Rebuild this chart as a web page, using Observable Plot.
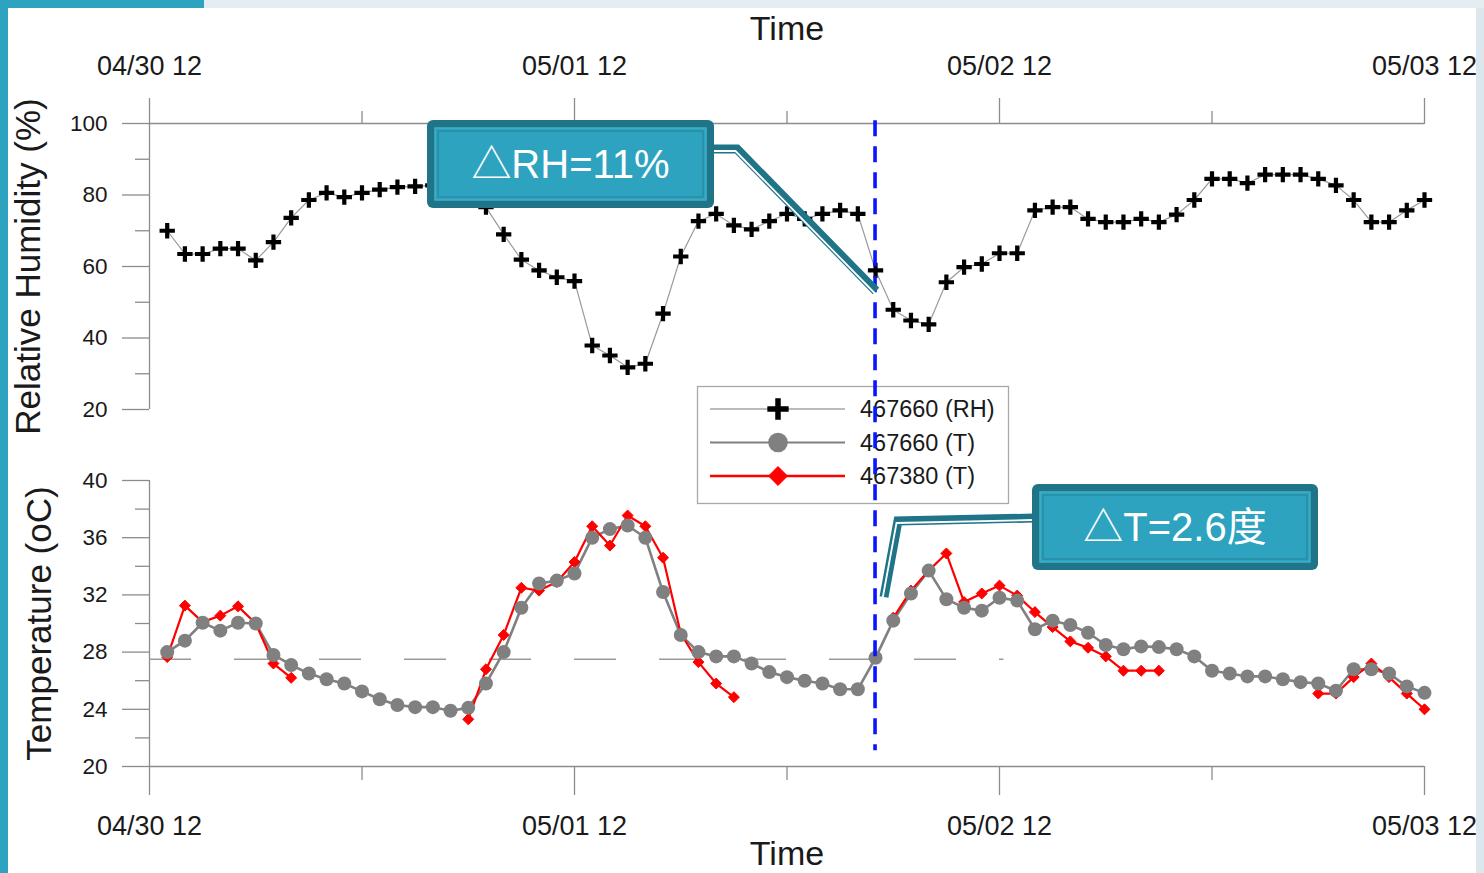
<!DOCTYPE html>
<html>
<head>
<meta charset="utf-8">
<script src="https://cdn.jsdelivr.net/npm/d3@7"></script>
<script src="https://cdn.jsdelivr.net/npm/@observablehq/plot@0.6"></script>
<style>
html, body { margin: 0; padding: 0; background: #fff; overflow: hidden; }
#wrap { position: relative; width: 1484px; height: 873px; overflow: hidden; background: #fff;
  font-family: "Liberation Sans", Arial, "Noto Sans CJK TC", sans-serif; }
#wrap > svg, #wrap > div { position: absolute; left: 0; top: 0; }
</style>
</head>
<body>
<div id="wrap"></div>
<script>
// ---------------- data (hourly, 04/30 13:00 .. 05/03 12:00) ----------------
const startLabel = "04/30 12";
const rhValues = [
  70, 63.5, 63.5, 65, 65, 61.7, 66.8, 73.6, 78.6, 80.6,
  79.4, 80.6, 81.5, 82.2, 82.4, 82.7, 83, 81, 76.6, 69,
  61.9, 58.9, 57, 55.9, 37.9, 35.1, 31.8, 32.8, 46.8, 62.8,
  72.7, 74.7, 71.5, 70.4, 72.7, 74.7, 73.3, 74.7, 75.7, 74.7,
  58.9, 47.9, 44.9, 43.8, 55.6, 59.8, 60.7, 63.7, 63.7, 75.7,
  76.6, 76.6, 73.3, 72.4, 72.4, 73.3, 72.4, 74.5, 78.6, 84.5,
  84.5, 83.3, 85.7, 85.7, 85.7, 84.5, 82.7, 78.6, 72.4, 72.4,
  75.7, 78.6
];
const temp467660 = [
  28.0, 28.8, 30.05, 29.5, 30.05, 30.0, 27.8, 27.1, 26.5, 26.1,
  25.8, 25.25, 24.7, 24.3, 24.15, 24.15, 23.9, 24.1, 25.8, 28.0,
  31.1, 32.8, 33.0, 33.5, 36.0, 36.6, 36.85, 36.0, 32.2, 29.2,
  28.0, 27.7, 27.7, 27.2, 26.6, 26.25, 26.0, 25.8, 25.4, 25.4,
  27.6, 30.2, 32.1, 33.7, 31.7, 31.1, 30.9, 31.8, 31.6, 29.6,
  30.2, 29.9, 29.35, 28.5, 28.2, 28.4, 28.35, 28.2, 27.7, 26.7,
  26.5, 26.3, 26.3, 26.1, 25.9, 25.8, 25.3, 26.8, 26.8, 26.5,
  25.6, 25.15
];
const temp467380 = [
  27.65, 31.25, 30.1, 30.55, 31.2, 30.0, 27.2, 26.2, null, null,
  null, null, null, null, null, null, null, 23.3, 26.8, 29.2,
  32.5, 32.3, 32.9, 34.3, 36.8, 35.45, 37.55, 36.8, 34.6, 29.3,
  27.3, 25.8, 24.85, null, null, null, null, null, null, null,
  null, 30.4, 32.3, 33.7, 34.9, 31.5, 32.1, 32.65, 31.95, 30.8,
  29.75, 28.75, 28.3, 27.7, 26.7, 26.7, 26.7, null, null, null,
  null, null, null, null, null, 25.1, 25.1, 26.25, 27.2, 26.25,
  25.1, 24.0
];
const xTickLabels = ["04/30 12", "05/01 12", "05/02 12", "05/03 12"];
const xMinorTickLabels = ["05/01 00", "05/02 00", "05/03 00"];
const rhTicks = [20, 40, 60, 80, 100];
const rhMinorTicks = [30, 50, 70, 90];
const tTicks = [20, 24, 28, 32, 36, 40];
const tMinorTicks = [22, 26, 30, 34, 38];
const refLevel = 27.5;                       // dashed reference level (oC)
const refSpan = ["04/30 12", "05/02 12"];
const eventLabel = "05/02 05";               // blue dashed marker
const seriesNames = ["467660 (RH)", "467660 (T)", "467380 (T)"];
const calloutTexts = ["△RH=11%", "△T=2.6度"];
const axisTitles = { x: "Time", rh: "Relative Humidity (%)", t: "Temperature (oC)" };

// ---------------- build table ----------------
const parse = s => d3.utcParse("%Y/%m/%d %H")("2014/" + s);
const fmt = d3.utcFormat("%m/%d %H");
const t0 = parse(startLabel);
const tEnd = parse(xTickLabels[xTickLabels.length - 1]);
const rows = rhValues.map((v, i) => ({
  time: d3.utcHour.offset(t0, i + 1), rh: v, tA: temp467660[i], tB: temp467380[i]
}));
const majorX = xTickLabels.map(parse);
const minorX = xMinorTickLabels.map(parse);

const W = 1484, H = 873;
const FONT = '"Liberation Sans", Arial, "Noto Sans CJK TC", sans-serif';
const AXIS = "#8c8c8c";
const TEXT = "#1a1a1a";
const baseStyle = { position: "absolute", left: "0px", top: "0px", background: "transparent",
  overflow: "visible", fontFamily: FONT, color: TEXT };
const common = {
  width: W, height: H, marginLeft: 149, marginRight: 60,
  x: { type: "utc", domain: [t0, tEnd] },
  style: baseStyle
};

// ---------------- top panel: RH ----------------
const rhPlot = Plot.plot({
  ...common,
  marginTop: 123, marginBottom: H - 409,
  y: { domain: [20, 100] },
  marks: [
    Plot.ruleY([100], { stroke: AXIS, strokeWidth: 1.3 }),
    Plot.ruleX([t0], { y1: 20, y2: 100, stroke: AXIS, strokeWidth: 1.3 }),
    Plot.axisX(majorX, { anchor: "top", tickSize: 26, tickPadding: 23, tickFormat: fmt,
      fontSize: 27, label: null, stroke: AXIS, strokeWidth: 1.3, fill: TEXT }),
    Plot.axisX(minorX, { anchor: "top", tickSize: 13, tickFormat: () => "", label: null,
      stroke: AXIS, strokeWidth: 1.3 }),
    Plot.axisY(rhTicks, { anchor: "left", tickSize: 27, tickPadding: 15, fontSize: 22.5,
      label: null, stroke: AXIS, strokeWidth: 1.3, fill: TEXT }),
    Plot.axisY(rhMinorTicks, { anchor: "left", tickSize: 14, tickFormat: () => "", label: null,
      stroke: AXIS, strokeWidth: 1.3 }),
    Plot.line(rows, { x: "time", y: "rh", stroke: "#9a9a9a", strokeWidth: 1.2 }),
    Plot.dot(rows, { x: "time", y: "rh", symbol: "plus", r: 5, stroke: "#000", strokeWidth: 4.2 }),
    Plot.text([axisTitles.x], { text: d => d, frameAnchor: "top", dy: -94, fontSize: 34,
      textAnchor: "middle", lineAnchor: "middle", fill: TEXT }),
    Plot.text([axisTitles.rh], { text: d => d, frameAnchor: "left", dx: -121, rotate: -90,
      fontSize: 35, textAnchor: "middle", lineAnchor: "middle", fill: TEXT })
  ]
});

// ---------------- bottom panel: Temperature ----------------
const tPlot = Plot.plot({
  ...common,
  marginTop: 480, marginBottom: H - 766,
  y: { domain: [20, 40] },
  marks: [
    Plot.ruleY([20], { stroke: AXIS, strokeWidth: 1.3 }),
    Plot.ruleX([t0], { y1: 20, y2: 40, stroke: AXIS, strokeWidth: 1.3 }),
    Plot.axisX(majorX, { anchor: "bottom", tickSize: 29, tickPadding: 20, tickFormat: fmt,
      fontSize: 27, label: null, stroke: AXIS, strokeWidth: 1.3, fill: TEXT }),
    Plot.axisX(minorX, { anchor: "bottom", tickSize: 14, tickFormat: () => "", label: null,
      stroke: AXIS, strokeWidth: 1.3 }),
    Plot.axisY(tTicks, { anchor: "left", tickSize: 27, tickPadding: 15, fontSize: 22.5,
      label: null, stroke: AXIS, strokeWidth: 1.3, fill: TEXT }),
    Plot.axisY(tMinorTicks, { anchor: "left", tickSize: 14, tickFormat: () => "", label: null,
      stroke: AXIS, strokeWidth: 1.3 }),
    Plot.ruleY([refLevel], { x1: parse(refSpan[0]), x2: d3.utcMinute.offset(parse(refSpan[1]), 15),
      stroke: "#9a9a9a", strokeWidth: 1.5, strokeDasharray: "42,43" }),
    Plot.line(rows, { x: "time", y: "tA", stroke: "#808080", strokeWidth: 2.6 }),
    Plot.line(rows, { x: "time", y: "tB", stroke: "#ff0000", strokeWidth: 2.2 }),
    Plot.dot(rows.filter(d => d.tB != null), { x: "time", y: "tB", symbol: "diamond2", r: 4.95,
      fill: "#ff0000", stroke: "#ff0000", strokeWidth: 1 }),
    Plot.dot(rows, { x: "time", y: "tA", symbol: "circle", r: 7, fill: "#808080", stroke: "none" }),
    Plot.text([axisTitles.x], { text: d => d, frameAnchor: "bottom", dy: 88, fontSize: 34,
      textAnchor: "middle", lineAnchor: "middle", fill: TEXT }),
    Plot.text([axisTitles.t], { text: d => d, frameAnchor: "left", dx: -110, rotate: -90,
      fontSize: 35, textAnchor: "middle", lineAnchor: "middle", fill: TEXT })
  ]
});

const wrap = document.getElementById("wrap");

// slide background fragments around the pasted chart
function band(l, t, w, h, c) {
  const d = document.createElement("div");
  Object.assign(d.style, { left: l + "px", top: t + "px", width: w + "px", height: h + "px", background: c });
  wrap.appendChild(d);
}
band(0, 0, 1484, 8, "#e4edf1");
band(0, 0, 204, 8, "#2ea3bf");
band(0, 0, 8, 873, "#2ea3bf");
band(1476, 8, 8, 865, "#dbe7ed");

wrap.appendChild(rhPlot);
wrap.appendChild(tPlot);

// ---------------- overlay: legend, event line, callouts ----------------
const ov = d3.create("svg").attr("width", W).attr("height", H)
  .style("position", "absolute").style("left", "0px").style("top", "0px")
  .style("font-family", FONT);

// legend
const lg = ov.append("g");
lg.append("rect").attr("x", 697.5).attr("y", 386.5).attr("width", 311).attr("height", 117)
  .attr("fill", "#fff").attr("stroke", "#a8a8a8").attr("stroke-width", 1.3);
const legendStyles = [
  { line: "#a6a6a6", lw: 1.5, sym: d3.symbolPlus, size: 150, fill: "none", stroke: "#000", sw: 5.5 },
  { line: "#808080", lw: 2.2, sym: d3.symbolCircle, size: Math.PI * 9.8 * 9.8, fill: "#808080", stroke: "none", sw: 0 },
  { line: "#ff0000", lw: 2.4, sym: d3.symbolDiamond2, size: 230, fill: "#ff0000", stroke: "#ff0000", sw: 1 }
];
seriesNames.forEach((name, i) => {
  const s = legendStyles[i];
  const y = 409 + i * 33.5;
  lg.append("line").attr("x1", 710).attr("x2", 845).attr("y1", y).attr("y2", y)
    .attr("stroke", s.line).attr("stroke-width", s.lw);
  lg.append("path").attr("transform", `translate(778,${y})`)
    .attr("d", d3.symbol(s.sym, s.size)()).attr("fill", s.fill).attr("stroke", s.stroke)
    .attr("stroke-width", s.sw);
  lg.append("text").attr("x", 860).attr("y", y).attr("dy", "0.35em").attr("font-size", 23.5)
    .attr("fill", TEXT).text(name);
});

// blue event line spanning both panels
const ex = tPlot.scale("x").apply(parse(eventLabel));
ov.append("line").attr("x1", ex).attr("x2", ex)
  .attr("y1", rhPlot.scale("y").apply(100.8)).attr("y2", tPlot.scale("y").apply(21.1))
  .attr("stroke", "#0a14ff").attr("stroke-width", 3.6).attr("stroke-dasharray", "16,10");

// callouts
const DARK = "#1f7488", FILL = "#2ea3bf", INNER = "#2a8ca5";
function leader(d) {
  ov.append("path").attr("d", d).attr("fill", "none").attr("stroke", DARK).attr("stroke-width", 9)
    .attr("stroke-linejoin", "miter");
  ov.append("path").attr("d", d).attr("fill", "none").attr("stroke", "#fff").attr("stroke-width", 1.8)
    .attr("transform", "translate(-1.5,2)");
}
function box(x, y, w, h, label, fs) {
  const g = ov.append("g");
  g.append("rect").attr("x", x).attr("y", y).attr("width", w).attr("height", h).attr("rx", 6)
    .attr("fill", DARK);
  g.append("rect").attr("x", x + 8).attr("y", y + 8).attr("width", w - 16).attr("height", h - 16)
    .attr("fill", FILL).attr("stroke", "#3fb0c9").attr("stroke-width", 1.5);
  g.append("rect").attr("x", x + 11).attr("y", y + 11).attr("width", w - 22).attr("height", h - 22)
    .attr("fill", "none").attr("stroke", INNER).attr("stroke-width", 1.5);
  g.append("text").attr("x", x + w / 2).attr("y", y + h / 2).attr("dy", "0.36em")
    .attr("text-anchor", "middle").attr("font-size", fs).attr("fill", "#fff").text(label);
}
leader("M712,149 L737,149 L876,291");
leader("M1034,518 L898,521 L884,597");
box(427, 120, 287, 88, calloutTexts[0], 40);
box(1032, 484, 286, 86, calloutTexts[1], 40);

wrap.appendChild(ov.node());
</script>
</body>
</html>
